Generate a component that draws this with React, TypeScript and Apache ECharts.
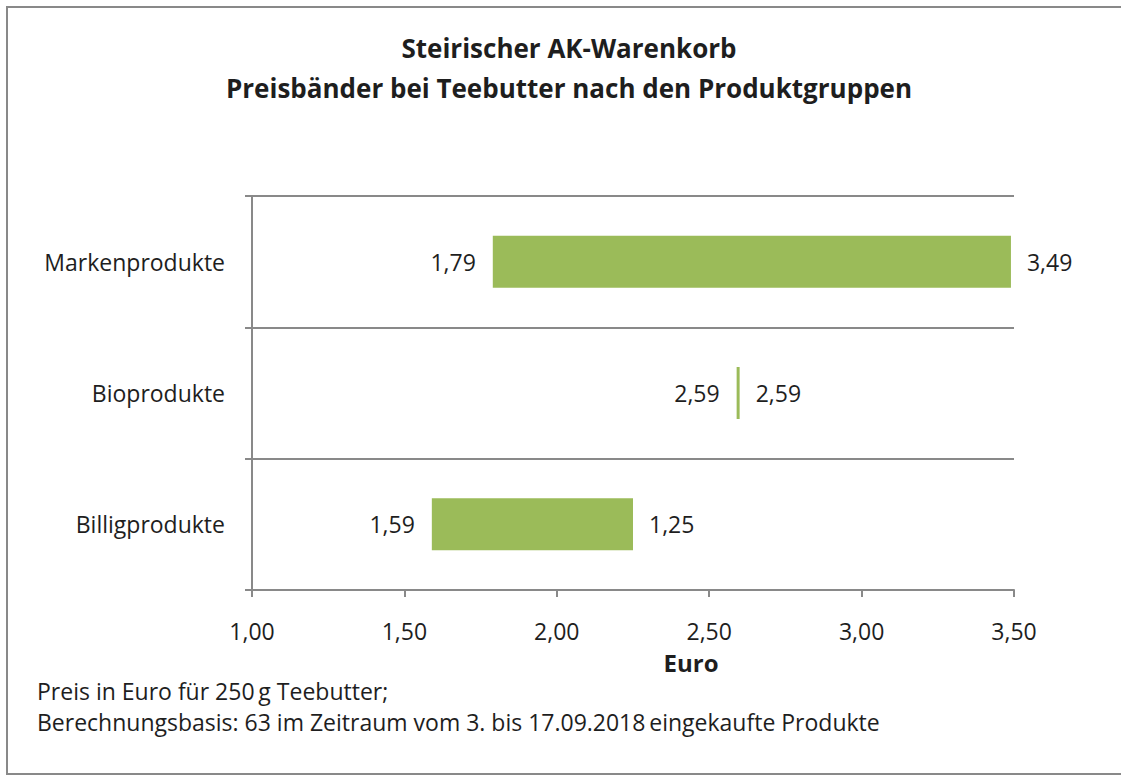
import React, { useEffect, useRef } from "react";
import * as echarts from "echarts";

const categories = ["Billigprodukte", "Bioprodukte", "Markenprodukte"];
const minValues = [1.59, 2.59, 1.79];
const maxValues = [2.25, 2.59, 3.49];
const minLabels = ["1,59", "2,59", "1,79"];
const maxLabels = ["1,25", "2,59", "3,49"];
const xMin = 1;
const xMax = 3.5;
const xInterval = 0.5;

const titleLines = [
  "Steirischer AK-Warenkorb",
  "Preisbänder bei Teebutter nach den Produktgruppen",
];
const axisName = "Euro";
const footnotes = [
  "Preis in Euro für 250\u2009g Teebutter;",
  "Berechnungsbasis: 63 im Zeitraum vom 3. bis 17.09.2018\u2009eingekaufte Produkte",
];

const FONT = "'Open Sans', 'Noto Sans', sans-serif";
const GRAY = "#898989";
const TEXT = "#1e1e1e";
const GREEN = "#9BBB59";

export default function App() {
  const ref = useRef<HTMLDivElement>(null);

  useEffect(() => {
    if (!ref.current) return;
    const chart = echarts.init(ref.current, undefined, { renderer: "svg" });
    const spans = maxValues.map((v, i) => +(v - minValues[i]).toFixed(2));

    chart.setOption({
      animation: false,
      backgroundColor: "#ffffff",
      grid: {
        left: 252,
        right: 107,
        top: 196,
        bottom: 186,
        containLabel: false,
        outerBoundsMode: "none",
      },
      xAxis: {
        type: "value",
        min: xMin,
        max: xMax,
        interval: xInterval,
        axisLine: { show: true, lineStyle: { color: GRAY, width: 2 } },
        axisTick: { show: true, length: 7, lineStyle: { color: GRAY, width: 2 } },
        splitLine: { show: false },
        axisLabel: {
          fontFamily: FONT,
          fontSize: 23,
          color: TEXT,
          margin: 29,
          formatter: (v: number) => v.toFixed(2).replace(".", ","),
        },
      },
      yAxis: {
        type: "category",
        data: categories,
        axisLine: { show: true, lineStyle: { color: GRAY, width: 2 } },
        axisTick: { show: true, length: 7, lineStyle: { color: GRAY, width: 2 } },
        splitLine: { show: true, lineStyle: { color: GRAY, width: 2 } },
        axisLabel: {
          fontFamily: FONT,
          fontSize: 23,
          color: TEXT,
          margin: 27,
          padding: [0, 0, 3, 0],
        },
      },
      series: [
        {
          type: "bar",
          stack: "band",
          barWidth: 52,
          data: minValues,
          itemStyle: { color: "rgba(0,0,0,0)" },
          silent: true,
          label: {
            show: true,
            position: "insideRight",
            distance: 17,
            fontFamily: FONT,
            fontSize: 23,
            color: TEXT,
            formatter: (p: any) => minLabels[p.dataIndex],
          },
        },
        {
          type: "bar",
          stack: "band",
          barWidth: 52,
          barMinHeight: 3,
          data: spans,
          itemStyle: { color: GREEN },
          label: {
            show: true,
            position: "right",
            distance: 16,
            fontFamily: FONT,
            fontSize: 23,
            color: TEXT,
            formatter: (p: any) => maxLabels[p.dataIndex],
          },
        },
      ],
      graphic: [
        {
          type: "rect",
          shape: { x: 7, y: 7, width: 1140, height: 767 },
          style: { fill: "none", stroke: GRAY, lineWidth: 2 },
          z: 0,
        },
        {
          type: "text",
          x: 569,
          y: 48,
          style: {
            text: titleLines[0],
            textAlign: "center",
            textVerticalAlign: "middle",
            font: `bold 26px ${FONT}`,
            fill: TEXT,
          },
        },
        {
          type: "text",
          x: 569,
          y: 88,
          style: {
            text: titleLines[1],
            textAlign: "center",
            textVerticalAlign: "middle",
            font: `bold 26px ${FONT}`,
            fill: TEXT,
          },
        },
        {
          type: "text",
          x: 691,
          y: 662,
          style: {
            text: axisName,
            textAlign: "center",
            textVerticalAlign: "middle",
            font: `bold 24px ${FONT}`,
            fill: TEXT,
          },
        },
        {
          type: "text",
          x: 37,
          y: 691,
          style: {
            text: footnotes[0],
            textAlign: "left",
            textVerticalAlign: "middle",
            font: `23px ${FONT}`,
            fill: TEXT,
          },
        },
        {
          type: "text",
          x: 37,
          y: 722,
          style: {
            text: footnotes[1],
            textAlign: "left",
            textVerticalAlign: "middle",
            font: `23px ${FONT}`,
            fill: TEXT,
          },
        },
      ],
    });

    return () => chart.dispose();
  }, []);

  return (
    <div
      ref={ref}
      style={{ position: "absolute", left: 0, top: 0, width: 1121, height: 776 }}
    />
  );
}
